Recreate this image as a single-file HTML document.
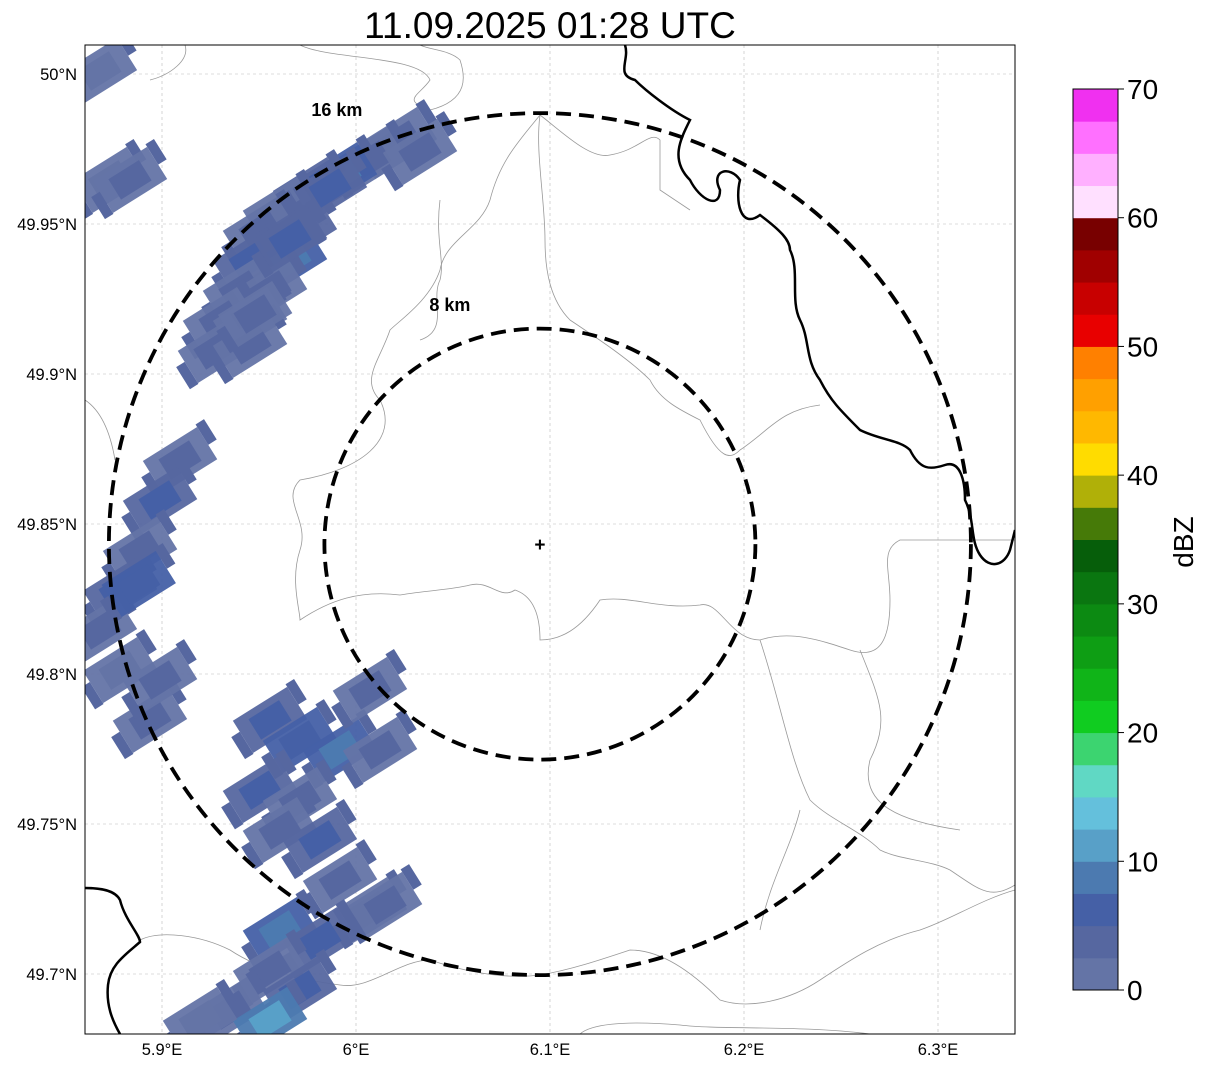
<!DOCTYPE html>
<html><head><meta charset="utf-8"><style>
html,body{margin:0;padding:0;background:#fff}
svg{display:block;font-family:"Liberation Sans","DejaVu Sans",sans-serif}
</style></head><body>
<svg id="chart" width="1207" height="1069" viewBox="0 0 1207 1069">
<text x="550" y="38" font-size="37" text-anchor="middle">11.09.2025 01:28 UTC</text>
<defs><clipPath id="mapclip"><rect x="85" y="45" width="930" height="989"/></clipPath></defs>
<g id="grid"></g>
<g id="borders" clip-path="url(#mapclip)">
<path d="M185,45 C190,60 170,75 150,80 M300,45 C330,60 420,55 430,80 C420,95 400,100 430,110 C470,100 465,75 460,60 C450,50 430,50 420,45" fill="none" stroke="#999" stroke-width="0.8"/>
<path d="M540,115 C520,140 500,160 490,200 C480,230 445,240 440,270 C430,300 400,320 390,330 C380,360 360,380 380,400 C400,440 360,470 300,480 C280,500 310,520 300,550 C290,580 300,610 300,620 C330,600 360,590 400,595 C430,590 450,590 470,585 C490,580 500,600 515,590 C530,595 540,610 540,640 C560,640 580,630 600,600 C630,595 660,610 700,605 C720,600 730,640 760,640 C790,630 820,640 850,650 C880,660 890,640 890,600 C890,570 880,550 900,540 L1015,540" fill="none" stroke="#999" stroke-width="0.8"/>
<path d="M540,115 C560,130 590,160 610,155 C640,150 650,130 660,140 L660,190 L690,210 M540,115 C535,150 545,200 545,240 C545,270 550,300 570,320 C600,340 630,360 650,380 C660,400 680,410 700,420 C720,460 730,460 740,450 C770,430 780,410 820,405" fill="none" stroke="#999" stroke-width="0.8"/>
<path d="M85,400 C100,410 110,430 115,460 M440,200 C435,240 445,260 440,280 C430,300 450,330 420,340 M760,640 C780,700 790,760 810,800 C830,820 860,830 880,850 C900,860 930,860 950,870 C980,890 990,900 1015,885 M860,650 C880,700 890,720 870,760 C860,800 890,820 960,830" fill="none" stroke="#999" stroke-width="0.8"/>
<path d="M140,940 C160,930 200,935 230,950 C260,970 300,980 340,985 C370,990 400,960 430,960 C460,970 500,980 540,975 C570,970 600,960 630,950 C660,950 690,970 720,1000 C750,1010 790,1000 820,980 C850,960 880,940 920,930 C950,920 980,900 1015,890 M580,1034 C590,1025 620,1020 680,1025 C720,1030 800,1025 870,1034 M800,810 C790,850 770,880 760,930" fill="none" stroke="#999" stroke-width="0.8"/>
<path d="M625,45 C630,60 615,75 635,80 C645,90 670,110 690,120 C680,140 670,160 690,180 C700,200 720,210 720,190 C710,170 730,165 740,180 C735,200 740,230 760,215 C780,230 790,240 790,250 C800,270 790,300 800,320 C810,340 805,360 820,380 C830,400 840,410 860,430 C880,440 900,440 910,450 C920,470 930,470 945,465 C960,460 965,480 965,500 C975,520 970,540 980,555 C990,570 1005,565 1010,550 L1015,530" fill="none" stroke="#000" stroke-width="2.5"/>
<path d="M85,888 C100,888 115,890 120,900 C125,920 140,935 140,942 C125,955 110,965 108,985 C106,1005 112,1020 120,1034" fill="none" stroke="#000" stroke-width="2.5"/>
</g>
<g id="echoes" clip-path="url(#mapclip)"></g>
<g id="rings"></g>
<rect x="85" y="45" width="930" height="989" fill="none" stroke="#000" stroke-width="1"/>
<g id="axes"></g>
<g id="cbar"></g>
</svg>
<script>
const NS="http://www.w3.org/2000/svg";
const lonTicks=[5.9,6.0,6.1,6.2,6.3];
const lonLabels=["5.9°E","6°E","6.1°E","6.2°E","6.3°E"];
const latTicks=[50.0,49.95,49.9,49.85,49.8,49.75,49.7];
const latLabels=["50°N","49.95°N","49.9°N","49.85°N","49.8°N","49.75°N","49.7°N"];
const echoLon=[6.0227,6.0072,5.9918,5.9763,5.9608,5.9505,5.9711,5.9454,5.966,5.9402,5.9557,5.9299,5.9454,5.9273,5.9454,5.868,5.873,5.8835,5.9093,5.899,5.8887,5.8784,5.868,5.8784,5.8938,5.899,5.9557,5.9711,5.9918,6.0072,6.0124,5.9505,5.9711,5.9608,5.9814,5.9918,6.0072,5.9608,5.9814,5.9557,5.9711,5.935,5.9557,5.9196,5.9866,6.0330,5.9660,5.9480,5.8880,6.0150];
const echoLat=[49.978,49.9713,49.9663,49.9613,49.9547,49.948,49.948,49.938,49.938,49.928,49.928,49.918,49.918,49.908,49.9097,50.001,49.9647,49.9647,49.8713,49.858,49.8413,49.828,49.8147,49.8013,49.7847,49.798,49.7847,49.778,49.7747,49.7947,49.7747,49.7613,49.758,49.748,49.7447,49.7313,49.7213,49.7147,49.7113,49.7013,49.6947,49.688,49.6847,49.6847,49.9620,49.9740,49.9450,49.9200,49.8300,49.7230];
const echoDbz=[4,3,8,5,3,4,6,5,9,4,3,4,2,3,4,2,2,3,4,5,3,6,4,2,3,4,5,7,9,3,4,6,3,4,5,3,4,8,5,4,6,3,10,2,5,4,6,4,7,3];
const cbBounds=[0,2.5,5,7.5,10,12.5,15,17.5,20,22.5,25,27.5,30,32.5,35,37.5,40,42.5,45,47.5,50,52.5,55,57.5,60,62.5,65,67.5,70];
const cbColors=["#6474a6","#5667a0","#4560a6","#4c7ab0","#58a0c8","#64c0dc","#60d8c4","#3cd470","#10cc20","#10b418","#0e9e14","#0c8a12","#0a7610","#065e0a","#467a08","#b0b008","#ffdc00","#ffb800","#ffa000","#ff8000","#e80000","#c80000","#a00000","#780000","#ffe0ff","#ffb0ff","#ff70ff","#f030f0"];
const cbTicks=[0,10,20,30,40,50,60,70];
const ringKm=[8,16];
const center={lon:6.0948,lat:49.8433};
const X=lon=>162+(lon-5.9)*1940;
const Y=lat=>74+(50-lat)*3000;
function mk(tag,attrs,parent){const e=document.createElementNS(NS,tag);for(const k in attrs)e.setAttribute(k,attrs[k]);parent.appendChild(e);return e;}
const grid=document.getElementById('grid'),axes=document.getElementById('axes');
lonTicks.forEach((v,i)=>{
  const l=mk('line',{x1:X(v),x2:X(v),y1:45,y2:1034,stroke:'#bbb','stroke-width':0.6,'stroke-dasharray':'3,3'},grid);
  
  
  const t=mk('text',{x:X(v),y:1055,'font-size':16.5,'text-anchor':'middle'},axes);t.textContent=lonLabels[i];
  
  
});
latTicks.forEach((v,i)=>{
  const l=mk('line',{x1:85,x2:1015,y1:Y(v),y2:Y(v),stroke:'#bbb','stroke-width':0.6,'stroke-dasharray':'3,3'},grid);
  
  
  const t=mk('text',{x:77,y:Y(v)+6,'font-size':16.5,'text-anchor':'end'},axes);t.textContent=latLabels[i];
  
  
});
function colorFor(d){for(let i=0;i<cbColors.length;i++){if(d<cbBounds[i+1])return cbColors[i];}return cbColors[cbColors.length-1];}
const eg=document.getElementById('echoes');
echoLon.forEach((lo,i)=>{
  const cx=X(lo),cy=Y(echoLat[i]);
  const g=mk('g',{transform:`translate(${cx},${cy}) rotate(-32)`},eg);
  
  
  const c=colorFor(echoDbz[i]);
  mk('rect',{x:-32,y:-19,width:64,height:38,fill:colorFor(Math.max(0,echoDbz[i]-2)),opacity:0.95},g);
  mk('rect',{x:-18,y:-12,width:36,height:24,fill:c},g);
  mk('rect',{x:-42,y:-6,width:10,height:26,fill:colorFor(3)},g);
  mk('rect',{x:32,y:-22,width:10,height:24,fill:colorFor(4)},g);
});
const rg=document.getElementById('rings');
const pxPerKm=215.5/8;
const ringLabelDx=[-90,-203];
const ringLabelDy=[-233,-428];
ringKm.forEach((km,i)=>{
  const r=km*pxPerKm;
  const c=mk('circle',{cx:X(center.lon),cy:Y(center.lat),r:r,fill:'none',stroke:'#000','stroke-width':3.8,'stroke-dasharray':'15,8'},rg);
  
  
  const t=mk('text',{x:X(center.lon)+ringLabelDx[i],y:Y(center.lat)+ringLabelDy[i],'font-size':18,'font-weight':'bold','text-anchor':'middle'},rg);
  t.textContent=km+' km';
  
  
});
const cm=mk('text',{x:X(center.lon),y:Y(center.lat)+7,'font-size':19,'font-weight':'bold','text-anchor':'middle'},rg);cm.textContent='+';


const cb=document.getElementById('cbar');
const cbY=v=>990-(v/70)*901;
cbColors.forEach((col,i)=>{
  const r=mk('rect',{x:1073,y:cbY(cbBounds[i+1]),width:45,height:cbY(cbBounds[i])-cbY(cbBounds[i+1])+0.5,fill:col},cb);
  
  
});
mk('rect',{x:1073,y:89,width:45,height:901,fill:'none',stroke:'#000','stroke-width':1},cb);
cbTicks.forEach(v=>{
  mk('line',{x1:1118,x2:1124,y1:cbY(v),y2:cbY(v),stroke:'#000'},cb);
  const t=mk('text',{x:1127,y:cbY(v)+10,'font-size':28},cb);t.textContent=v;
  
  
});
const lab=mk('text',{x:1193,y:542,'font-size':28,'text-anchor':'middle',transform:'rotate(-90 1193 542)'},cb);lab.textContent='dBZ';


</script>
</body></html>
